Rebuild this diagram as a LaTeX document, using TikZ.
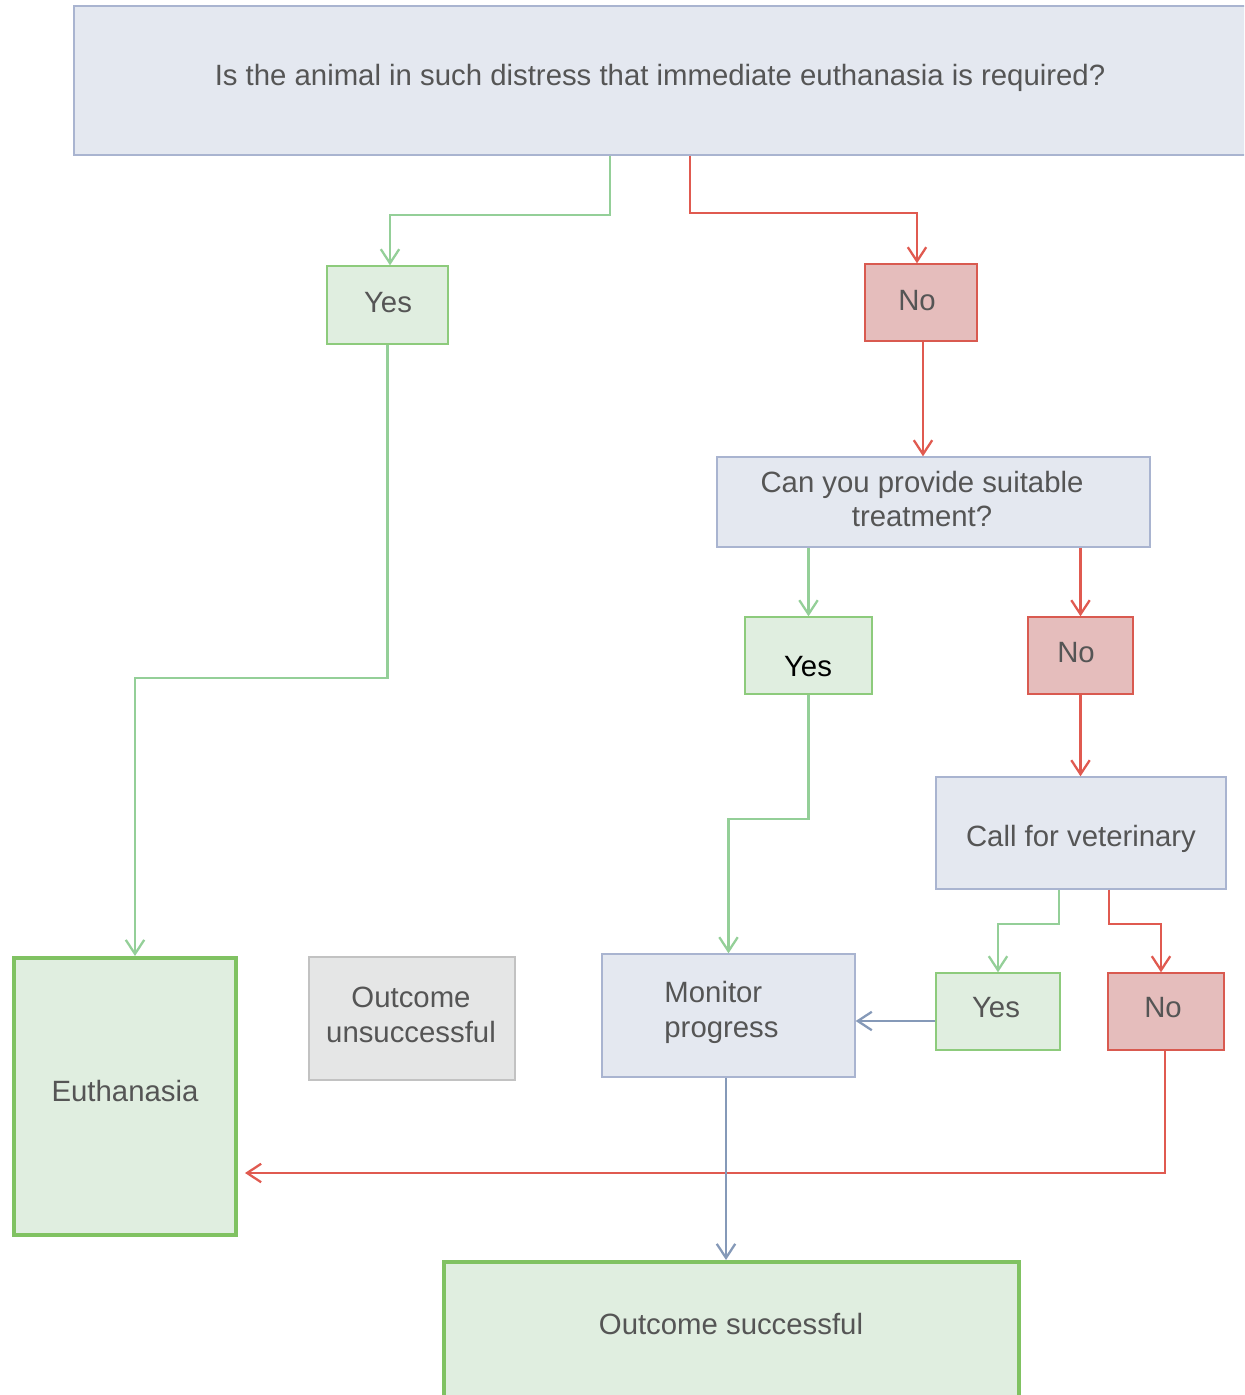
\documentclass[tikz,border=0pt]{standalone}
\usepackage{fontspec}
\setmainfont{Liberation Sans}
\usetikzlibrary{arrows.meta}
\definecolor{txt}{HTML}{555555}
\definecolor{bfill}{HTML}{E4E8F0}
\definecolor{bdraw}{HTML}{A9B4D0}
\definecolor{gfill}{HTML}{E0EEE0}
\definecolor{gdraw}{HTML}{8DCB7C}
\definecolor{rfill}{HTML}{E5BDBC}
\definecolor{rdraw}{HTML}{D95A50}
\definecolor{gline}{HTML}{94CF98}
\definecolor{rline}{HTML}{E05A50}
\definecolor{bline}{HTML}{8599B8}
\definecolor{gthick}{HTML}{80C262}
\definecolor{grfill}{HTML}{E5E6E6}
\definecolor{grdraw}{HTML}{C2C2C2}
\begin{document}
\begin{tikzpicture}[x=0.02cm,y=-0.02cm,
  font=\fontsize{16.7}{19.8}\selectfont,
  box/.style={rectangle, inner sep=0pt, line width=0.8pt},
  bluebox/.style={box, fill=bfill, draw=bdraw},
  greenbox/.style={box, fill=gfill, draw=gdraw},
  redbox/.style={box, fill=rfill, draw=rdraw},
  graybox/.style={box, fill=grfill, draw=grdraw},
  endbox/.style={box, fill=gfill, draw=gthick, line width=2.3pt},
  lbl/.style={text=txt, inner sep=0pt, align=center},
  conn/.style={line width=1.3pt, -{Straight Barb[length=8pt,width=10.5pt,line width=1.3pt]}},
  garr/.style={conn, draw=gline},
  rarr/.style={conn, draw=rline},
  barr/.style={conn, draw=bline}
]
\useasboundingbox (0,0) rectangle (1244,1395);
\clip (0,0) rectangle (1244,1395);

% boxes
\node[bluebox, minimum width=23.52cm, minimum height=2.98cm] (top) at (662,80.5) {};
\node[greenbox, minimum width=2.42cm, minimum height=1.56cm] (yes1) at (387.5,305) {};
\node[redbox, minimum width=2.24cm, minimum height=1.54cm] (no1) at (921,302.5) {};
\node[bluebox, minimum width=8.66cm, minimum height=1.8cm] (q2) at (933.5,502) {};
\node[greenbox, minimum width=2.54cm, minimum height=1.54cm] (yes2) at (808.5,655.5) {};
\node[redbox, minimum width=2.1cm, minimum height=1.54cm] (no2) at (1080.5,655.5) {};
\node[bluebox, minimum width=5.8cm, minimum height=2.24cm] (call) at (1081,833) {};
\node[greenbox, minimum width=2.48cm, minimum height=1.54cm] (yes3) at (998,1011.5) {};
\node[redbox, minimum width=2.32cm, minimum height=1.54cm] (no3) at (1166,1011.5) {};
\node[bluebox, minimum width=5.06cm, minimum height=2.46cm] (mon) at (728.5,1015.5) {};
\node[graybox, minimum width=4.12cm, minimum height=2.46cm] (unsucc) at (412,1018.5) {};
\node[endbox, minimum width=4.44cm, minimum height=5.54cm] (euth) at (125,1096.5) {};
\node[endbox, minimum width=11.5cm, minimum height=3.16cm] (succ) at (731.5,1341) {};

% texts
\node[lbl] (topt) at (660,77.5) {Is the animal in such distress that immediate euthanasia is required?};
\node[lbl] (yes1t) at (388,303) {Yes};
\node[lbl] (no1t) at (917,301) {No};
\node[lbl] (q2t) at (922,499) {Can you provide suitable\\treatment?};
\node[lbl, text=black] (yes2t) at (808,667) {Yes};
\node[lbl] (no2t) at (1076,653) {No};
\node[lbl] (callt) at (1081,838.5) {Call for veterinary};
\node[lbl] (yes3t) at (996,1008) {Yes};
\node[lbl] (no3t) at (1163,1008) {No};
\node[lbl, align=left] (mont) at (721.5,1012.5) {Monitor\\progress};
\node[lbl] (unsucct) at (411,1014.5) {Outcome\\unsuccessful};
\node[lbl] (eutht) at (125,1091) {Euthanasia};
\node[lbl] (succt) at (731,1324) {Outcome successful};

% connectors
\draw[garr] (610,0 |- top.south) -- (610,215) -| (390,0 |- yes1.north);
\draw[rarr] (690,0 |- top.south) -- (690,213) -| (917,0 |- no1.north);
\draw[garr] (yes1.south) -- (387.5,678) -| (euth.north -| 135,0);
\draw[rarr] (923,0 |- no1.south) -- (923,0 |- q2.north);
\draw[garr] (yes2.north |- q2.south) -- (yes2.north);
\draw[rarr] (no2.north |- q2.south) -- (no2.north);
\draw[rarr] (no2.south) -- (no2.south |- call.north);
\draw[garr] (yes2.south) -- (808.5,819) -| (mon.north);
\draw[garr] (1059,0 |- call.south) -- (1059,924) -| (yes3.north);
\draw[rarr] (1109,0 |- call.south) -- (1109,924) -| (1161,0 |- no3.north);
\draw[barr] (yes3.west |- 0,1021) -- (mon.east |- 0,1021);
\draw[rarr, shorten >=0.14cm] (1165,0 |- no3.south) -- (1165,1173) -- (euth.east |- 0,1173);
\draw[barr] (726,0 |- mon.south) -- (726,0 |- succ.north);
\end{tikzpicture}
\end{document}
